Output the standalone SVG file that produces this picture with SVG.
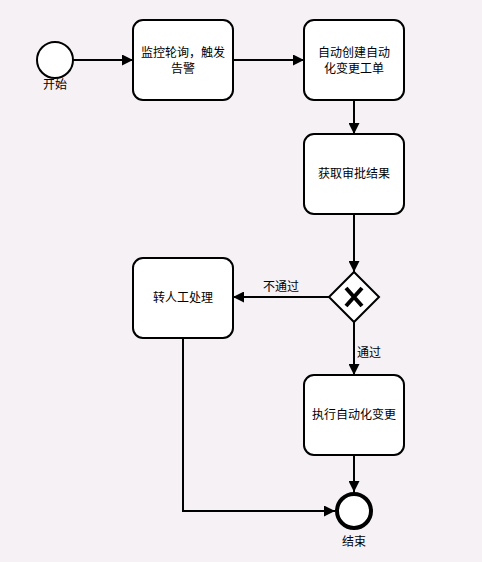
<svg xmlns="http://www.w3.org/2000/svg" width="482" height="562" viewBox="0 0 482 562">
<style>
.task{fill:#ffffff;stroke:#000;stroke-width:2}
.ev{fill:#ffffff;stroke:#000;stroke-width:2}
.end{fill:#ffffff;stroke:#000;stroke-width:4}
.edge{fill:none;stroke:#000;stroke-width:2}
text{font-family:"Liberation Sans","Noto Sans CJK SC",sans-serif;font-size:12px;fill:#000;text-anchor:middle}
</style>
<defs>
<marker id="arr" viewBox="0 0 10 10" refX="10" refY="5" markerWidth="5.5" markerHeight="5.5" orient="auto" markerUnits="strokeWidth">
<path d="M0,0 L10,5 L0,10 Z" fill="#000"/>
</marker>
</defs>
<rect width="482" height="562" fill="#f5f1f5"/>
<g id="connectors">
<path class="edge" d="M73,60 L133,60" marker-end="url(#arr)"/>
<path class="edge" d="M233,60 L304,60" marker-end="url(#arr)"/>
<path class="edge" d="M354,100 L354,134" marker-end="url(#arr)"/>
<path class="edge" d="M354,214 L354,272" marker-end="url(#arr)"/>
<path class="edge" d="M329,297 L233,297" marker-end="url(#arr)"/>
<text x="281" y="291">不通过</text>
<path class="edge" d="M354,322 L354,375" marker-end="url(#arr)"/>
<text x="369" y="357">通过</text>
<path class="edge" d="M354,455 L354,492" marker-end="url(#arr)"/>
<path class="edge" d="M183,338 L183,511 L335,511" marker-end="url(#arr)"/>
</g>
<g id="start">
<circle class="ev" cx="55" cy="60" r="18"/>
<text x="55" y="89">开始</text>
</g>
<g id="monitor">
<rect class="task" x="133" y="20" width="100" height="80" rx="10"/>
<text x="183" y="57">监控轮询，触发</text>
<text x="183" y="73">告警</text>
</g>
<g id="createTicket">
<rect class="task" x="304" y="20" width="100" height="80" rx="10"/>
<text x="354" y="57">自动创建自动</text>
<text x="354" y="73">化变更工单</text>
</g>
<g id="approval">
<rect class="task" x="304" y="134" width="100" height="80" rx="10"/>
<text x="354" y="178">获取审批结果</text>
</g>
<g id="gateway">
<path class="ev" d="M354,272 L379,297 L354,322 L329,297 Z"/>
<path d="M346,288 L362,306 M362,288 L346,306" stroke="#000" stroke-width="4" fill="none"/>
</g>
<g id="manual">
<rect class="task" x="133" y="258" width="100" height="80" rx="10"/>
<text x="183" y="302">转人工处理</text>
</g>
<g id="execute">
<rect class="task" x="304" y="375" width="100" height="80" rx="10"/>
<text x="354" y="419">执行自动化变更</text>
</g>
<g id="end">
<circle class="end" cx="354" cy="511" r="17"/>
<text x="354" y="546">结束</text>
</g>
</svg>
